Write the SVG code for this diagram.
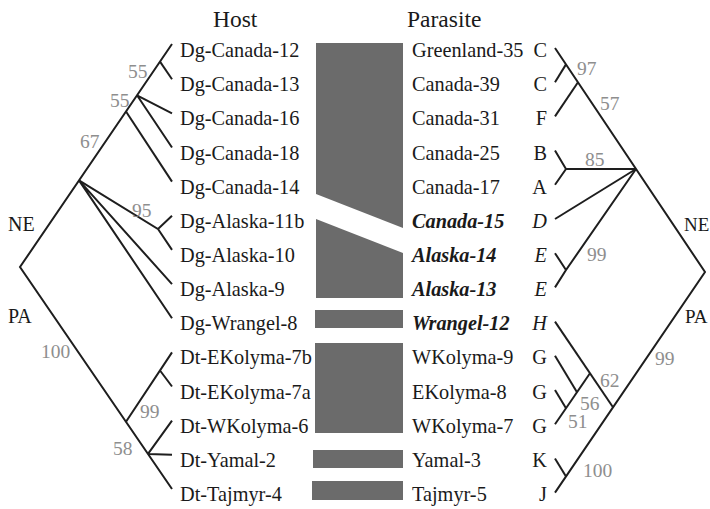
<svg xmlns="http://www.w3.org/2000/svg" width="710" height="509" viewBox="0 0 710 509">
<style>
text{font-family:"Liberation Serif","Times New Roman",serif;fill:#1a1a1a}
.t{font-size:23.5px}
.l{font-size:20.3px}
.bi{font-weight:bold;font-style:italic}
.i{font-style:italic}
.b{font-size:19.5px;fill:#8e8e8e}
.r{text-anchor:end}
.band{fill:#6b6b6b}
.e{fill:none;stroke:#1e1e1e;stroke-width:2;stroke-linecap:butt;stroke-linejoin:miter}
</style>
<rect width="710" height="509" fill="#fff"/>
<g id="titles">
<text class="t" x="213" y="27">Host</text>
<text class="t" x="407" y="27">Parasite</text>
</g>
<g id="bands">
<polygon class="band" points="316,43 403,43 403,228 316,194"/>
<polygon class="band" points="316,219 403,253 403,298 316,298"/>
<rect class="band" x="315" y="310" width="88" height="18"/>
<rect class="band" x="315" y="343" width="88" height="90"/>
<rect class="band" x="313" y="450" width="90" height="18"/>
<rect class="band" x="312" y="481" width="91" height="19"/>
</g>
<g id="host-labels" class="l">
<g id="h1"><text class="l" x="180" y="57">Dg-Canada-12</text></g>
<g id="h2"><text class="l" x="180" y="91.2">Dg-Canada-13</text></g>
<g id="h3"><text class="l" x="180" y="125.3">Dg-Canada-16</text></g>
<g id="h4"><text class="l" x="180" y="159.5">Dg-Canada-18</text></g>
<g id="h5"><text class="l" x="180" y="193.6">Dg-Canada-14</text></g>
<g id="h6"><text class="l" x="180" y="227.8">Dg-Alaska-11b</text></g>
<g id="h7"><text class="l" x="180" y="261.9">Dg-Alaska-10</text></g>
<g id="h8"><text class="l" x="180" y="296.1">Dg-Alaska-9</text></g>
<g id="h9"><text class="l" x="180" y="330.2">Dg-Wrangel-8</text></g>
<g id="h10"><text class="l" x="180" y="364.4">Dt-EKolyma-7b</text></g>
<g id="h11"><text class="l" x="180" y="398.5">Dt-EKolyma-7a</text></g>
<g id="h12"><text class="l" x="180" y="432.7">Dt-WKolyma-6</text></g>
<g id="h13"><text class="l" x="180" y="466.8">Dt-Yamal-2</text></g>
<g id="h14"><text class="l" x="180" y="501">Dt-Tajmyr-4</text></g>
</g>
<g id="parasite-labels">
<g id="p1"><text class="l" x="412" y="57">Greenland-35</text><text class="l r" x="547" y="57">C</text></g>
<g id="p2"><text class="l" x="412" y="91.2">Canada-39</text><text class="l r" x="547" y="91.2">C</text></g>
<g id="p3"><text class="l" x="412" y="125.3">Canada-31</text><text class="l r" x="547" y="125.3">F</text></g>
<g id="p4"><text class="l" x="412" y="159.5">Canada-25</text><text class="l r" x="547" y="159.5">B</text></g>
<g id="p5"><text class="l" x="412" y="193.6">Canada-17</text><text class="l r" x="547" y="193.6">A</text></g>
<g id="p6"><text class="l bi" x="412" y="227.8">Canada-15</text><text class="l r i" x="547" y="227.8">D</text></g>
<g id="p7"><text class="l bi" x="412" y="261.9">Alaska-14</text><text class="l r i" x="547" y="261.9">E</text></g>
<g id="p8"><text class="l bi" x="412" y="296.1">Alaska-13</text><text class="l r i" x="547" y="296.1">E</text></g>
<g id="p9"><text class="l bi" x="412" y="330.2">Wrangel-12</text><text class="l r i" x="547" y="330.2">H</text></g>
<g id="p10"><text class="l" x="412" y="364.4">WKolyma-9</text><text class="l r" x="547" y="364.4">G</text></g>
<g id="p11"><text class="l" x="412" y="398.5">EKolyma-8</text><text class="l r" x="547" y="398.5">G</text></g>
<g id="p12"><text class="l" x="412" y="432.7">WKolyma-7</text><text class="l r" x="547" y="432.7">G</text></g>
<g id="p13"><text class="l" x="412" y="466.8">Yamal-3</text><text class="l r" x="547" y="466.8">K</text></g>
<g id="p14"><text class="l" x="412" y="501">Tajmyr-5</text><text class="l r" x="547" y="501">J</text></g>
</g>
<g id="connectors" class="e">
<path d="M172,44 L20,267 L172,489"/>
<path d="M160,61.6 L172,79.2"/>
<path d="M137,95.3 L172,113.3 M137,95.3 L172,147.5"/>
<path d="M126,111.5 L172,181.6"/>
<path d="M79,180.4 L158,229 L172,215.8 M158,229 L172,249.9"/>
<path d="M79,180.4 L172,284.1 M79,180.4 L172,318.2"/>
<path d="M126,421.8 L172,352.4 M160,370.5 L172,386.5"/>
<path d="M148,453.9 L172,454.8 M148,453.9 L172,420.7"/>
<path d="M555,48 L705,272 L555,492.6"/>
<path d="M566,64.4 L555,82.2"/>
<path d="M578,82.3 L555,116.4"/>
<path d="M636,169 L566,169 L555,150.6 M566,169 L555,184.8"/>
<path d="M636,169 L555,219"/>
<path d="M636,169 L566,270 L555,253.2 M566,270 L555,287.4"/>
<path d="M566,476.4 L555,458.4"/>
<path d="M613,407.3 L555,321.6"/>
<path d="M590,373.3 L555,424.2"/>
<path d="M577,392.2 L555,355.8"/>
<path d="M566,408.2 L555,390"/>
</g>
<g id="region-labels">
<text x="8" y="231" font-size="20">NE</text>
<text x="8" y="323" font-size="20">PA</text>
<text x="684" y="231" font-size="19">NE</text>
<text x="685" y="323" font-size="19">PA</text>
</g>
<g id="support-values">
<text class="b" x="128" y="78">55</text>
<text class="b" x="110" y="107">55</text>
<text class="b" x="80" y="148">67</text>
<text class="b" x="132" y="217">95</text>
<text class="b" x="41" y="358">100</text>
<text class="b" x="140" y="418">99</text>
<text class="b" x="113" y="455">58</text>
<text class="b" x="577" y="75">97</text>
<text class="b" x="600" y="110">57</text>
<text class="b" x="585" y="166">85</text>
<text class="b" x="587" y="261">99</text>
<text class="b" x="600" y="387">62</text>
<text class="b" x="580" y="410">56</text>
<text class="b" x="568" y="428">51</text>
<text class="b" x="583" y="477">100</text>
<text class="b" x="655" y="365">99</text>
</g>
</svg>
